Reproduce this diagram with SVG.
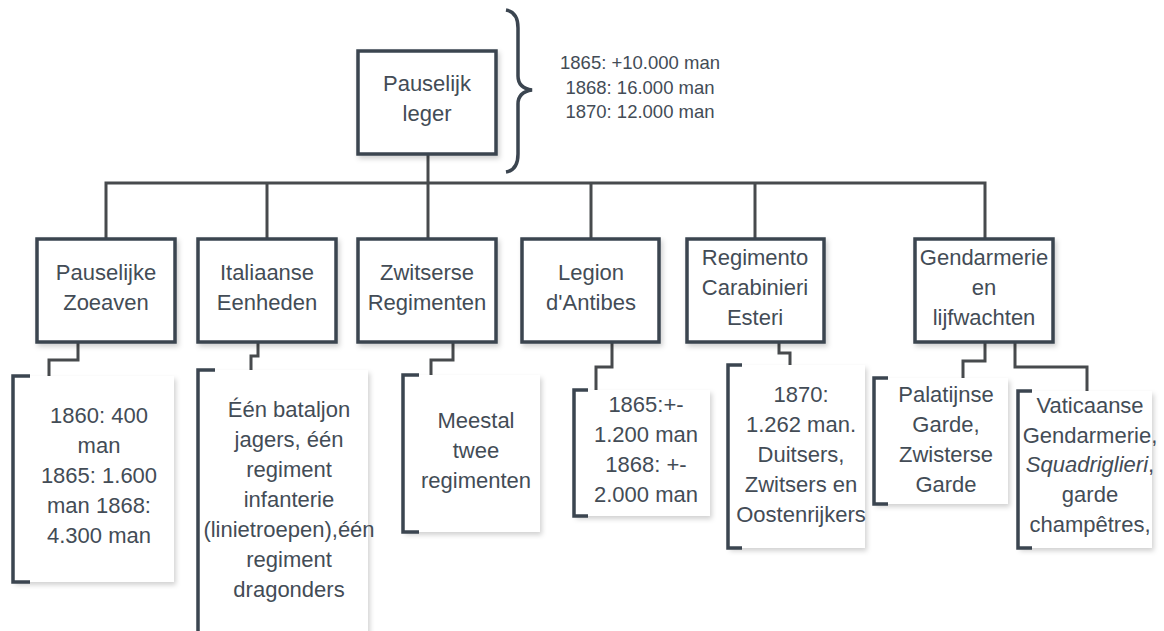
<svg xmlns="http://www.w3.org/2000/svg" width="1164" height="631" viewBox="0 0 1164 631">
<defs>
<filter id="sh" x="-10%" y="-10%" width="130%" height="130%">
<feDropShadow dx="2" dy="3" stdDeviation="2.5" flood-color="#000" flood-opacity="0.18"/>
</filter>
<style>
.box{fill:#fff;stroke:#3b4550;stroke-width:3.5;filter:url(#sh)}
.card{fill:#fff;stroke:none;filter:url(#sh)}
.br{fill:none;stroke:#3b4550;stroke-width:3.5}
.c{fill:none;stroke:#474a4d;stroke-width:3}
text{font-family:"Liberation Sans",Arial,sans-serif;font-size:22px;fill:#434c56;text-anchor:middle}
.sm{font-size:18.5px}
</style>
</defs>
<rect width="1164" height="631" fill="#fff"/>

<g id="connectors">
<path class="c" d="M428,154 V183"/>
<path class="c" d="M106,239 V183 H985 V239"/>
<path class="c" d="M267,183 V239"/>
<path class="c" d="M428,183 V239"/>
<path class="c" d="M591,183 V239"/>
<path class="c" d="M755,183 V239"/>
<path class="c" d="M78,342 V360 H49 V376"/>
<path class="c" d="M258,342 V356 H251 V370"/>
<path class="c" d="M453,342 V360 H431 V375"/>
<path class="c" d="M612,342 V367 H596 V390"/>
<path class="c" d="M779,342 V353 H790 V365"/>
<path class="c" d="M985,342 V361 H963 V378"/>
<path class="c" d="M1015,342 V367 H1087 V391"/>
</g>

<g id="root">
<rect class="box" x="358" y="51" width="138" height="103"/>
<text x="427" y="91">Pauselijk</text>
<text x="427" y="121">leger</text>
</g>

<g id="brace">
<path d="M506,10 Q518,12 518,28 V76 Q518,88 532,90 Q518,92 518,104 V154 Q518,170 506,172" fill="none" stroke="#3b4550" stroke-width="3.5"/>
<text class="sm" x="640" y="69">1865: +10.000 man</text>
<text class="sm" x="640" y="94">1868: 16.000 man</text>
<text class="sm" x="640" y="118">1870: 12.000 man</text>
</g>

<g id="n1">
<rect class="box" x="37" y="239" width="138" height="103"/>
<text x="106" y="280">Pauselijke</text>
<text x="106" y="310">Zoeaven</text>
</g>
<g id="n2">
<rect class="box" x="198" y="239" width="138" height="103"/>
<text x="267" y="280">Italiaanse</text>
<text x="267" y="310">Eenheden</text>
</g>
<g id="n3">
<rect class="box" x="358" y="239" width="138" height="103"/>
<text x="427" y="280">Zwitserse</text>
<text x="427" y="310">Regimenten</text>
</g>
<g id="n4">
<rect class="box" x="522" y="239" width="137" height="103"/>
<text x="591" y="280">Legion</text>
<text x="591" y="310">d'Antibes</text>
</g>
<g id="n5">
<rect class="box" x="687" y="239" width="137" height="103"/>
<text x="755" y="265">Regimento</text>
<text x="755" y="295">Carabinieri</text>
<text x="755" y="325">Esteri</text>
</g>
<g id="n6">
<rect class="box" x="915" y="239" width="138" height="103"/>
<text x="984" y="265">Gendarmerie</text>
<text x="984" y="295">en</text>
<text x="984" y="325">lijfwachten</text>
</g>

<g id="c1">
<rect class="card" x="13" y="376" width="161" height="206"/>
<path class="br" d="M30,376 H13 V582 H30"/>
<text x="99" y="423">1860: 400</text>
<text x="99" y="453">man</text>
<text x="99" y="483">1865: 1.600</text>
<text x="99" y="513">man 1868:</text>
<text x="99" y="543">4.300 man</text>
</g>
<g id="c2">
<rect class="card" x="198" y="370" width="170" height="270"/>
<path class="br" d="M215,370 H198 V640"/>
<text x="289" y="417">Één bataljon</text>
<text x="289" y="447">jagers, één</text>
<text x="289" y="477">regiment</text>
<text x="289" y="507">infanterie</text>
<text x="289" y="537">(linietroepen),één</text>
<text x="289" y="567">regiment</text>
<text x="289" y="597">dragonders</text>
</g>
<g id="c3">
<rect class="card" x="403" y="375" width="137" height="157"/>
<path class="br" d="M419,375 H403 V532 H419"/>
<text x="476" y="428">Meestal</text>
<text x="476" y="458">twee</text>
<text x="476" y="488">regimenten</text>
</g>
<g id="c4">
<rect class="card" x="574" y="390" width="136" height="126"/>
<path class="br" d="M588,390 H574 V516 H588"/>
<text x="646" y="412">1865:+-</text>
<text x="646" y="442">1.200 man</text>
<text x="646" y="472">1868: +-</text>
<text x="646" y="502">2.000 man</text>
</g>
<g id="c5">
<rect class="card" x="728" y="365" width="137" height="183"/>
<path class="br" d="M742,365 H728 V548 H742"/>
<text x="801" y="402">1870:</text>
<text x="801" y="432">1.262 man.</text>
<text x="801" y="462">Duitsers,</text>
<text x="801" y="492">Zwitsers en</text>
<text x="801" y="522">Oostenrijkers</text>
</g>
<g id="c6">
<rect class="card" x="874" y="378" width="134" height="126"/>
<path class="br" d="M888,378 H874 V504 H888"/>
<text x="946" y="402">Palatijnse</text>
<text x="946" y="432">Garde,</text>
<text x="946" y="462">Zwisterse</text>
<text x="946" y="492">Garde</text>
</g>
<g id="c7">
<rect class="card" x="1018" y="391" width="134" height="157"/>
<path class="br" d="M1032,391 H1018 V548 H1032"/>
<text x="1090" y="413">Vaticaanse</text>
<text x="1090" y="443">Gendarmerie,</text>
<text x="1090" y="472"><tspan font-style="italic">Squadriglieri</tspan>,</text>
<text x="1090" y="502">garde</text>
<text x="1090" y="532">champêtres,</text>
</g>
</svg>
